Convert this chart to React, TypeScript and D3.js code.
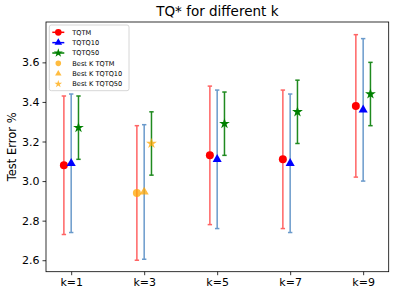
import { useEffect, useRef } from "react";
import * as d3 from "d3";

const ks = [1, 3, 5, 7, 9];
const kLabels = ["k=1", "k=3", "k=5", "k=7", "k=9"];

const tqtmMean = [3.08, 2.94, 3.13, 3.11, 3.38];
const tqtmErr = [0.35, 0.34, 0.35, 0.35, 0.36];
const tqtq10Mean = [3.09, 2.945, 3.11, 3.09, 3.36];
const tqtq10Err = [0.35, 0.34, 0.35, 0.35, 0.36];
const tqtq50Mean = [3.27, 3.19, 3.29, 3.35, 3.44];
const tqtq50Err = [0.16, 0.16, 0.16, 0.16, 0.16];

const bestK = 3;
const yTicks = [2.6, 2.8, 3.0, 3.2, 3.4, 3.6];

export default function App() {
  const ref = useRef<SVGSVGElement>(null);

  useEffect(() => {
    const W = 398, H = 296;
    const margin = { top: 22, right: 9.3, bottom: 24.3, left: 46 };
    const width = W - margin.left - margin.right;
    const height = H - margin.top - margin.bottom;
    const font = "DejaVu Sans, sans-serif";

    const root = d3.select(ref.current);
    root.selectAll("*").remove();

    const svg = root.append("g")
      .attr("transform", `translate(${margin.left},${margin.top})`);

    const x = d3.scaleLinear().domain([0.31, 9.7]).range([0, width]);
    const y = d3.scaleLinear().domain([2.542, 3.804]).range([height, 0]);

    const series = [
      { name: "TQTM", mean: tqtmMean, err: tqtmErr, off: -0.2, color: "red", errColor: "#ff6464", sym: d3.symbolCircle, size: 50 },
      { name: "TQTQ10", mean: tqtq10Mean, err: tqtq10Err, off: 0, color: "blue", errColor: "#6a9acb", sym: d3.symbolTriangle, size: 36 },
      { name: "TQTQ50", mean: tqtq50Mean, err: tqtq50Err, off: 0.2, color: "green", errColor: "#1f8a1f", sym: d3.symbolStar, size: 36 },
    ];

    // error bars
    series.forEach(s => {
      ks.forEach((k, i) => {
        const cx = x(k + s.off);
        const lo = y(s.mean[i] - s.err[i]);
        const hi = y(s.mean[i] + s.err[i]);
        svg.append("line")
          .attr("x1", cx).attr("x2", cx)
          .attr("y1", lo).attr("y2", hi)
          .attr("stroke", s.errColor)
          .attr("stroke-width", 1.5);
        [lo, hi].forEach(cy => {
          svg.append("line")
            .attr("x1", cx - 2.2).attr("x2", cx + 2.2)
            .attr("y1", cy).attr("y2", cy)
            .attr("stroke", s.errColor)
            .attr("stroke-width", 1.5);
        });
      });
    });

    // markers
    series.forEach(s => {
      ks.forEach((k, i) => {
        const best = k === bestK;
        svg.append("path")
          .attr("d", d3.symbol().type(s.sym).size(s.size)())
          .attr("transform", `translate(${x(k + s.off)},${y(s.mean[i])})`)
          .attr("fill", best ? "orange" : s.color)
          .attr("opacity", best ? 0.75 : 1);
      });
    });

    // axes
    const yAxis = svg.append("g")
      .call(d3.axisLeft(y).tickValues(yTicks).tickFormat(d3.format(".1f")).tickSize(3.5).tickPadding(3));
    yAxis.select(".domain").remove();
    yAxis.selectAll("text").attr("font-size", 11).attr("font-family", font).attr("fill", "#000");
    yAxis.selectAll("line").attr("stroke", "#000").attr("stroke-width", 0.8);

    const xAxis = svg.append("g")
      .attr("transform", `translate(0,${height})`)
      .call(d3.axisBottom(x).tickValues(ks).tickFormat((d, i) => kLabels[i]).tickSize(3.5).tickPadding(3));
    xAxis.select(".domain").remove();
    xAxis.selectAll("text").attr("font-size", 11).attr("font-family", font).attr("fill", "#000");
    xAxis.selectAll("line").attr("stroke", "#000").attr("stroke-width", 0.8);

    svg.append("rect")
      .attr("width", width).attr("height", height)
      .attr("fill", "none").attr("stroke", "#000").attr("stroke-width", 0.8);

    // title + y label
    root.append("text")
      .attr("x", margin.left + width / 2).attr("y", 16)
      .attr("text-anchor", "middle")
      .attr("font-family", font).attr("font-size", 13.5)
      .text("TQ* for different k");

    root.append("text")
      .attr("transform", `translate(16,${margin.top + height / 2}) rotate(-90)`)
      .attr("text-anchor", "middle")
      .attr("font-family", font).attr("font-size", 11.5)
      .text("Test Error %");

    // legend
    const legend = svg.append("g").attr("transform", "translate(3.3,3)");
    legend.append("rect")
      .attr("width", 79.7).attr("height", 65.7)
      .attr("rx", 2)
      .attr("fill", "#fff").attr("fill-opacity", 0.8)
      .attr("stroke", "#ccc").attr("stroke-width", 0.8);

    const entries = [
      ...series.map(s => ({ label: s.name, color: s.color, sym: s.sym, size: s.size * 0.7, line: true, op: 1 })),
      ...series.map(s => ({ label: `Best K ${s.name}`, color: "orange", sym: s.sym, size: s.size * 0.5, line: false, op: 0.75 })),
    ];
    entries.forEach((e, i) => {
      const yy = 7.3 + i * 10.35;
      if (e.line) {
        legend.append("line")
          .attr("x1", 3).attr("x2", 15).attr("y1", yy).attr("y2", yy)
          .attr("stroke", e.color).attr("stroke-width", 1.5);
      }
      legend.append("path")
        .attr("d", d3.symbol().type(e.sym).size(e.size)())
        .attr("transform", `translate(9,${yy})`)
        .attr("fill", e.color).attr("opacity", e.op);
      legend.append("text")
        .attr("x", 23).attr("y", yy + 2.3)
        .attr("font-family", font).attr("font-size", 6.6)
        .text(e.label);
    });
  }, []);

  return (
    <svg ref={ref} width={398} height={296}
      style={{ position: "absolute", left: 0, top: 0, background: "#fff" }} />
  );
}
